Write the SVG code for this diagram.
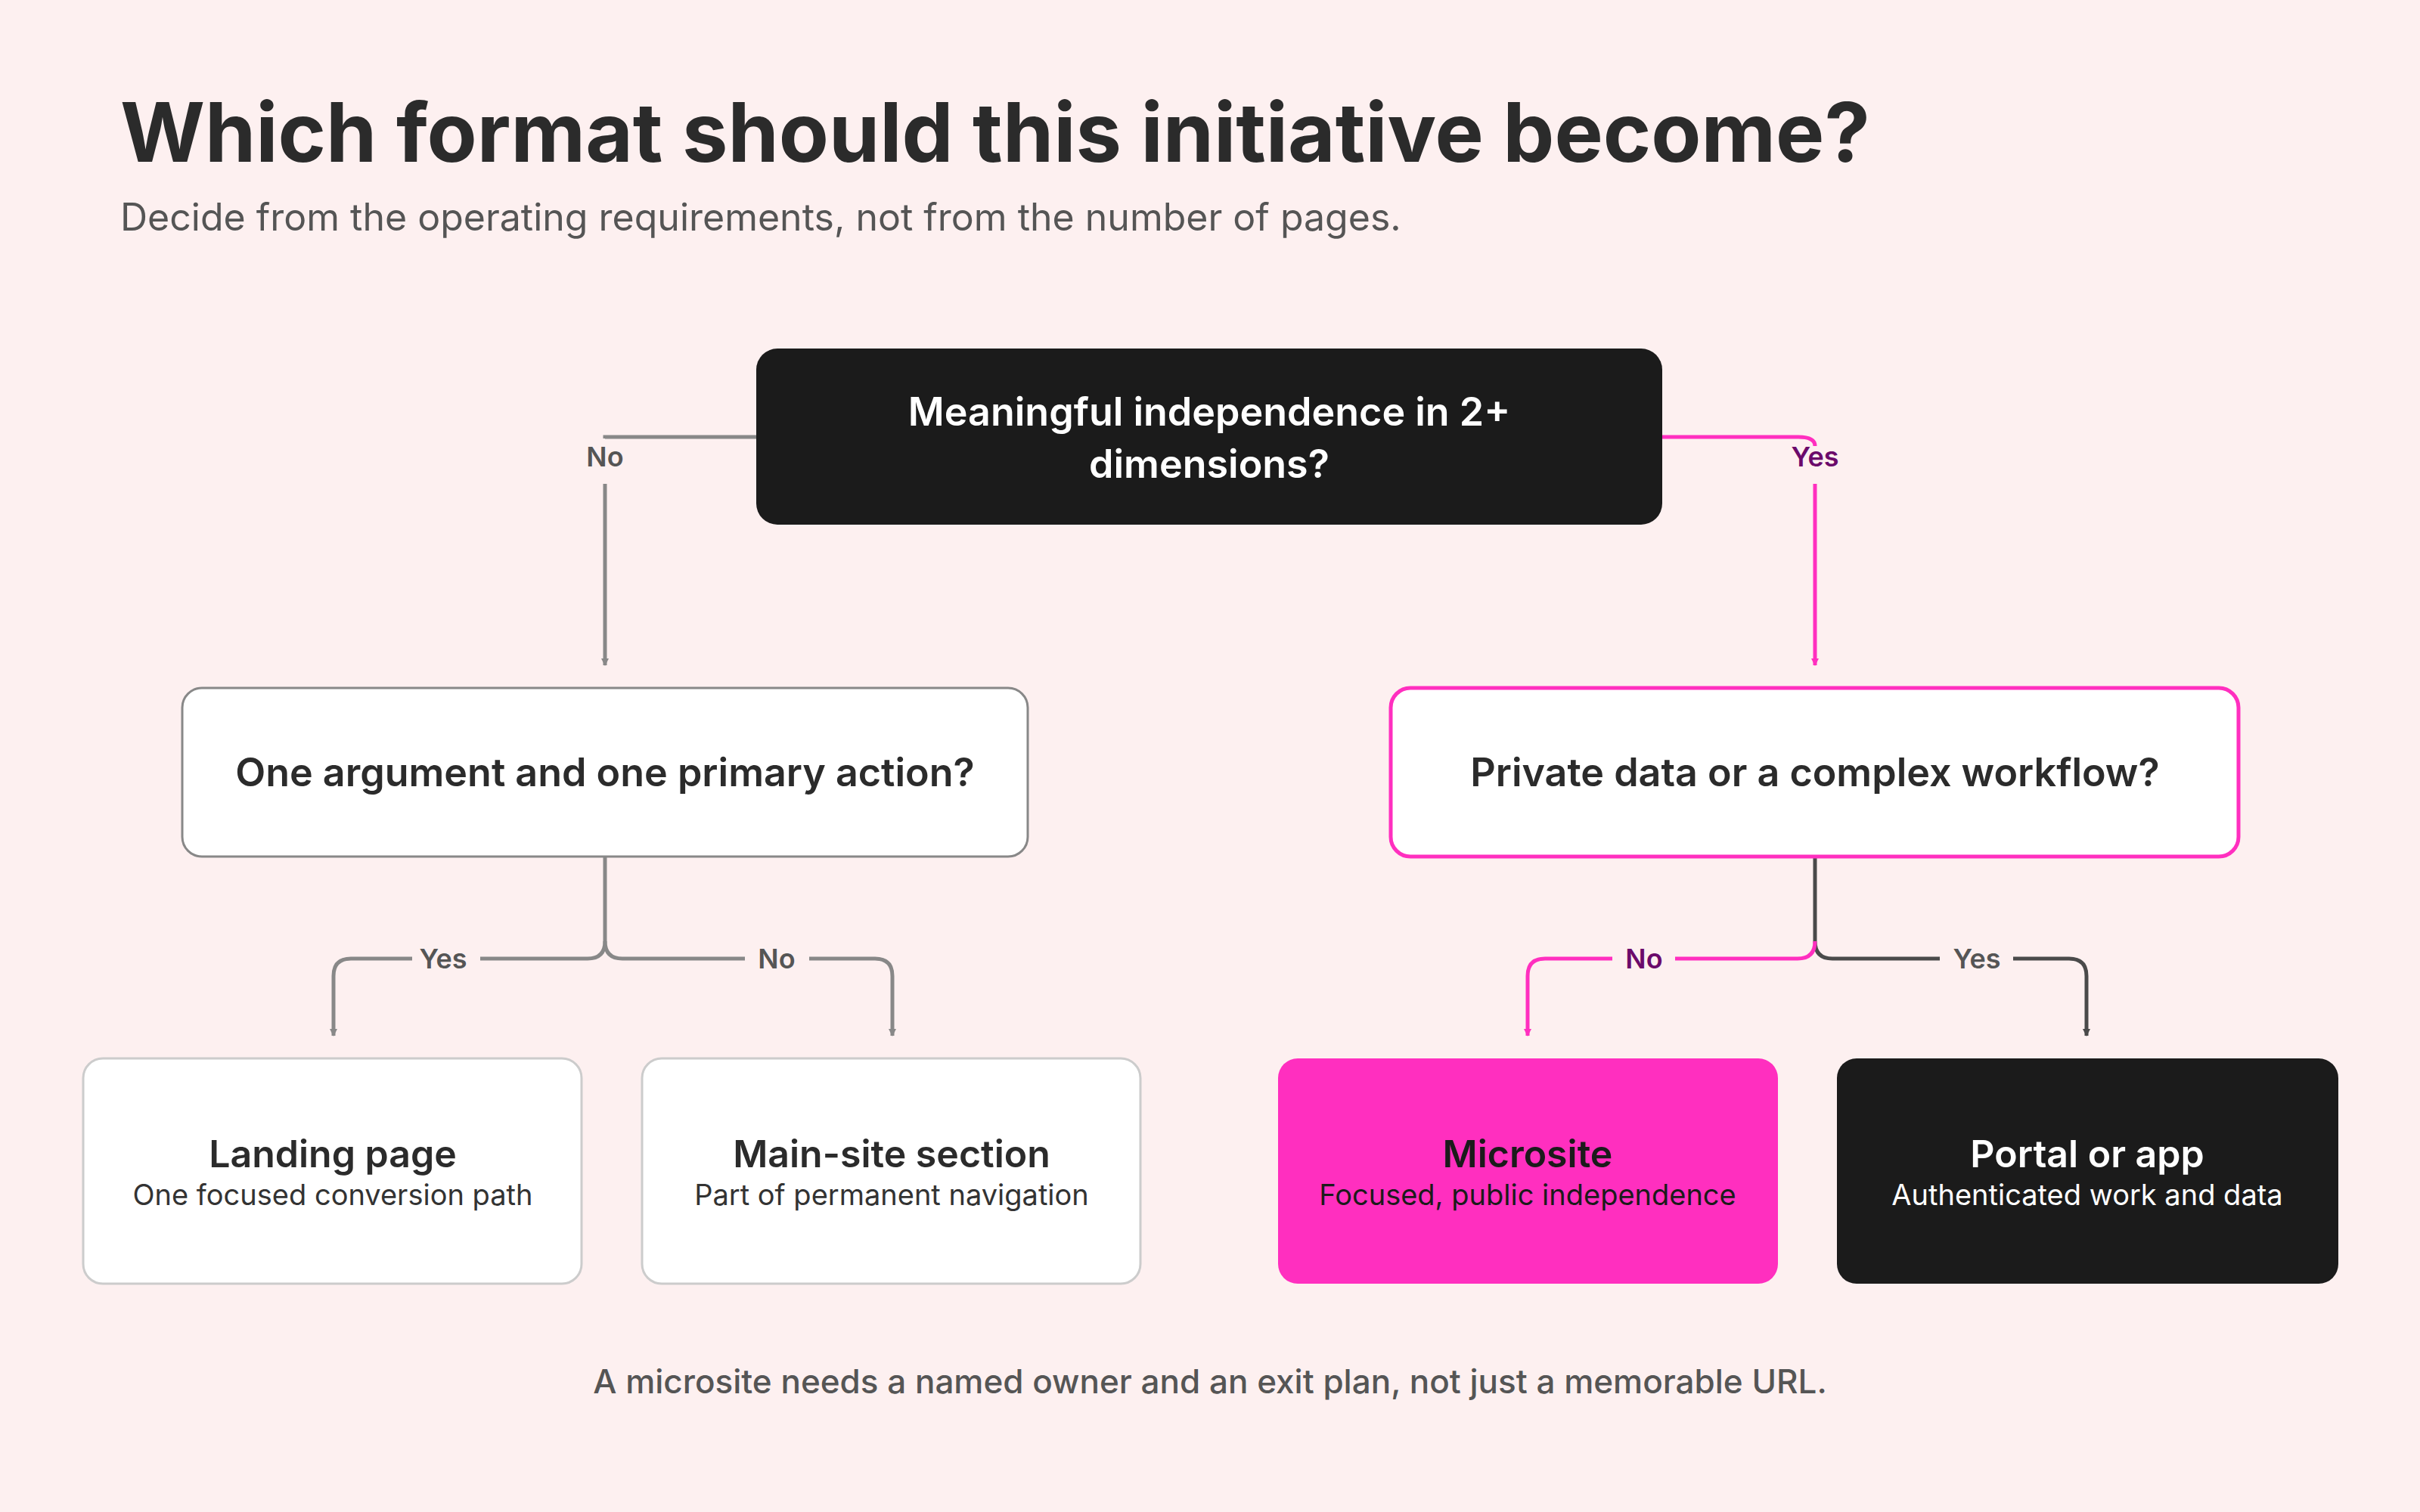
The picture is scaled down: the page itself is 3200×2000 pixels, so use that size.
<svg xmlns="http://www.w3.org/2000/svg" width="3200" height="2000" viewBox="0 0 3200 2000">
<defs>
<marker id="ag" viewBox="0 0 10 10" refX="9" refY="5" markerWidth="10" markerHeight="10" markerUnits="userSpaceOnUse" orient="auto"><path d="M0,0 L10,5 L0,10 z" fill="#888"/></marker>
<marker id="ap" viewBox="0 0 10 10" refX="9" refY="5" markerWidth="10" markerHeight="10" markerUnits="userSpaceOnUse" orient="auto"><path d="M0,0 L10,5 L0,10 z" fill="#ff2fbf"/></marker>
<marker id="ad" viewBox="0 0 10 10" refX="9" refY="5" markerWidth="10" markerHeight="10" markerUnits="userSpaceOnUse" orient="auto"><path d="M0,0 L10,5 L0,10 z" fill="#4a4a4a"/></marker>
</defs>
<style>
text{font-family:Inter,"Liberation Sans",sans-serif}
.c{fill:none;stroke-width:5}
.g{stroke:#888}.p{stroke:#ff2fbf}.d{stroke:#4a4a4a}
.lbl{font-size:36px;font-weight:600;text-anchor:middle}
.q{font-size:52px;font-weight:600;text-anchor:middle}
.t{font-size:50px;font-weight:600;text-anchor:middle}
.s{font-size:38px;text-anchor:middle}
</style>
<rect width="3200" height="2000" fill="#fdf0f0"/>
<text x="159" y="214" font-size="108" font-weight="700" fill="#2b2b2b">Which format should this initiative become?</text>
<text x="159" y="305" font-size="50" fill="#555">Decide from the operating requirements, not from the number of pages.</text>

<g id="connectors">
<path class="c g" d="M1000,578 H800 V580" />
<path class="c g" d="M800,640 V880" marker-end="url(#ag)" style="stroke-width:5"/>
<path class="c p" d="M2198,578 H2378 Q2400,578 2400,590"/>
<path class="c p" d="M2400,640 V880" marker-end="url(#ap)"/>
<path class="c g" d="M800,1133 V1245 Q800,1268 777,1268 H635"/>
<path class="c g" d="M545,1268 H464 Q441,1268 441,1291 V1370" marker-end="url(#ag)"/>
<path class="c g" d="M800,1245 Q800,1268 823,1268 H985"/>
<path class="c g" d="M1070,1268 H1157 Q1180,1268 1180,1291 V1370" marker-end="url(#ag)"/>
<path class="c d" d="M2400,1133 V1245 Q2400,1268 2423,1268 H2565"/>
<path class="c d" d="M2662,1268 H2736 Q2759,1268 2759,1291 V1370" marker-end="url(#ad)"/>
<path class="c p" d="M2400,1245 Q2400,1268 2377,1268 H2215"/>
<path class="c p" d="M2132,1268 H2043 Q2020,1268 2020,1291 V1370" marker-end="url(#ap)"/>
<text class="lbl" x="800" y="617" fill="#555">No</text>
<text class="lbl" x="2400" y="617" fill="#6b0a6b">Yes</text>
<text class="lbl" x="586" y="1281" fill="#555">Yes</text>
<text class="lbl" x="1027" y="1281" fill="#555">No</text>
<text class="lbl" x="2174" y="1281" fill="#6b0a6b">No</text>
<text class="lbl" x="2614" y="1281" fill="#555">Yes</text>
</g>

<g id="n-top"><rect x="1000" y="461" width="1198" height="233" rx="28" fill="#1b1b1b"/>
<text class="q" x="1599" y="563" fill="#fff">Meaningful independence in 2+</text><text class="q" x="1599" y="632" fill="#fff">dimensions?</text></g>
<g id="n-left"><rect x="241" y="910" width="1118" height="223" rx="26" fill="#fff" stroke="#888" stroke-width="3"/>
<text class="q" x="800" y="1040" fill="#2b2b2b">One argument and one primary action?</text></g>
<g id="n-right"><rect x="1839" y="910" width="1121" height="223" rx="26" fill="#fff" stroke="#ff2fbf" stroke-width="5"/>
<text class="q" x="2400" y="1040" fill="#2b2b2b">Private data or a complex workflow?</text></g>
<g id="n-landing"><rect x="110" y="1400" width="659" height="298" rx="26" fill="#fff" stroke="#ccc" stroke-width="3"/>
<text class="t" x="440" y="1544" fill="#2b2b2b">Landing page</text><text class="s" x="440" y="1594" fill="#333">One focused conversion path</text></g>
<g id="n-main"><rect x="849" y="1400" width="659" height="298" rx="26" fill="#fff" stroke="#ccc" stroke-width="3"/>
<text class="t" x="1179" y="1544" fill="#2b2b2b">Main-site section</text><text class="s" x="1179" y="1594" fill="#333">Part of permanent navigation</text></g>
<g id="n-micro"><rect x="1690" y="1400" width="661" height="298" rx="26" fill="#ff2fbf"/>
<text class="t" x="2020" y="1544" fill="#1b1b1b">Microsite</text><text class="s" x="2020" y="1594" fill="#1b1b1b">Focused, public independence</text></g>
<g id="n-portal"><rect x="2429" y="1400" width="663" height="298" rx="26" fill="#1b1b1b"/>
<text class="t" x="2760" y="1544" fill="#fff">Portal or app</text><text class="s" x="2760" y="1594" fill="#fff">Authenticated work and data</text></g>

<text x="1600" y="1843" font-size="44" font-weight="500" text-anchor="middle" fill="#555">A microsite needs a named owner and an exit plan, not just a memorable URL.</text>
</svg>
